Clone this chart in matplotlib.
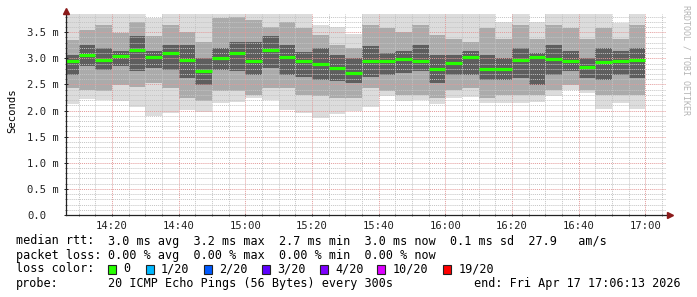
import matplotlib
matplotlib.use("Agg")
import matplotlib.pyplot as plt
from matplotlib.patches import Rectangle
from matplotlib.ticker import FixedLocator

plt.rcParams['font.family'] = ['DejaVu Sans Mono', 'DejaVu Sans']

# ---- data (ms) ----
window_start = "14:06:13"
window_end = "17:06:13"
bin_end = ["14:10", "14:15", "14:20", "14:25", "14:30", "14:35", "14:40",
           "14:45", "14:50", "14:55", "15:00", "15:05", "15:10", "15:15",
           "15:20", "15:25", "15:30", "15:35", "15:40", "15:45", "15:50",
           "15:55", "16:00", "16:05", "16:10", "16:15", "16:20", "16:25",
           "16:30", "16:35", "16:40", "16:45", "16:50", "16:55", "17:00"]

median = [2.95, 3.07, 2.96, 3.05, 3.17, 3.03, 3.11, 2.96, 2.75, 3.00,
          3.10, 2.95, 3.17, 3.03, 2.95, 2.90, 2.81, 2.72, 2.95, 2.95,
          2.98, 2.95, 2.80, 2.91, 3.02, 2.80, 2.79, 2.96, 3.02, 2.98,
          2.95, 2.84, 2.93, 2.95, 2.96]
smoke_max = [3.90, 3.90, 3.90, 3.90, 3.90, 3.77, 3.90, 3.90, 3.90, 3.90,
             3.90, 3.90, 3.90, 3.90, 3.90, 3.63, 3.60, 3.47, 3.90, 3.90,
             3.90, 3.90, 3.90, 3.90, 3.90, 3.90, 3.70, 3.90, 3.70, 3.90,
             3.90, 3.90, 3.90, 3.67, 3.90]
hi_mid = [3.35, 3.54, 3.64, 3.48, 3.70, 3.42, 3.64, 3.51, 3.32, 3.77,
          3.80, 3.74, 3.61, 3.70, 3.58, 3.45, 3.26, 3.19, 3.64, 3.58,
          3.51, 3.64, 3.45, 3.38, 3.32, 3.58, 3.38, 3.64, 3.38, 3.64,
          3.58, 3.38, 3.58, 3.38, 3.64]
hi_dark = [3.07, 3.25, 3.19, 3.14, 3.42, 3.14, 3.26, 3.26, 3.00, 3.19,
           3.32, 3.32, 3.42, 3.26, 3.13, 3.19, 3.07, 3.00, 3.23, 3.10,
           3.14, 3.26, 3.07, 3.07, 3.14, 3.07, 3.00, 3.19, 3.10, 3.26,
           3.14, 3.00, 3.19, 3.14, 3.19]
lo_dark = [2.68, 2.85, 2.78, 2.85, 2.75, 2.81, 2.78, 2.62, 2.49, 2.78,
           2.75, 2.68, 2.81, 2.68, 2.65, 2.59, 2.56, 2.52, 2.65, 2.68,
           2.72, 2.75, 2.52, 2.68, 2.68, 2.59, 2.59, 2.62, 2.49, 2.68,
           2.75, 2.62, 2.59, 2.68, 2.62]
lo_mid = [2.43, 2.40, 2.37, 2.49, 2.46, 2.52, 2.43, 2.24, 2.18, 2.37,
          2.37, 2.30, 2.43, 2.43, 2.30, 2.27, 2.24, 2.24, 2.43, 2.37,
          2.30, 2.30, 2.24, 2.40, 2.43, 2.24, 2.30, 2.30, 2.30, 2.40,
          2.49, 2.40, 2.30, 2.30, 2.30]
smoke_min = [2.12, 2.22, 2.20, 2.19, 2.07, 1.90, 1.96, 2.01, 1.98, 2.15,
             2.17, 2.24, 2.20, 2.01, 1.96, 1.86, 1.93, 1.99, 2.07, 2.28,
             2.19, 2.20, 2.12, 2.24, 2.26, 2.14, 2.15, 2.15, 2.17, 2.28,
             2.39, 2.33, 2.03, 2.15, 2.03]

x_major = ["14:20", "14:40", "15:00", "15:20", "15:40", "16:00", "16:20", "16:40", "17:00"]
y_ticks = [0.0, 0.5, 1.0, 1.5, 2.0, 2.5, 3.0, 3.5]
y_labels = ["0.0", "0.5 m", "1.0 m", "1.5 m", "2.0 m", "2.5 m", "3.0 m", "3.5 m"]

loss_labels = ["0", "1/20", "2/20", "3/20", "4/20", "10/20", "19/20"]
loss_colors = ["#26ff00", "#00b8ff", "#0059ff", "#5e00ff", "#7e00ff", "#dd00ff", "#ff0000"]


def minutes(t):
    # minutes after 14:00
    parts = [int(p) for p in t.split(":")]
    h, m = parts[0], parts[1]
    s = parts[2] if len(parts) > 2 else 0
    return (h - 14) * 60 + m + s / 60.0


W, H = 697, 297
fig = plt.figure(figsize=(W / 100, H / 100), dpi=100)
fig.patch.set_facecolor("white")
ax = fig.add_axes([66 / W, 82 / H, 600 / W, 201 / H])

x0 = minutes(window_start)
x1 = minutes(window_end)
rights = [minutes(t) for t in bin_end]
lefts = [x0] + rights[:-1]
widths = [r - l for l, r in zip(lefts, rights)]

# smoke
ax.bar(lefts, [a - b for a, b in zip(smoke_max, smoke_min)], width=widths,
       bottom=smoke_min, align="edge", color="#dcdcdc", linewidth=0, zorder=1)
ax.bar(lefts, [a - b for a, b in zip(hi_mid, lo_mid)], width=widths,
       bottom=lo_mid, align="edge", color="#ababab", linewidth=0, zorder=1.1)
ax.bar(lefts, [a - b for a, b in zip(hi_dark, lo_dark)], width=widths,
       bottom=lo_dark, align="edge", color="#5e5e5e", linewidth=0, zorder=1.2)

# median rtt
ax.hlines(median, lefts, rights, colors="#26ff00", linewidth=2.3, zorder=4,
          capstyle="butt")

ax.set_xlim(x0, x1)
ax.set_ylim(0, 3.85)

ax.xaxis.set_major_locator(FixedLocator([minutes(t) for t in x_major]))
ax.set_xticklabels(x_major)
ax.xaxis.set_minor_locator(FixedLocator([minutes(t) for t in bin_end] + [minutes("17:05")]))
ax.yaxis.set_major_locator(FixedLocator(y_ticks))
ax.set_yticklabels(y_labels)
ax.yaxis.set_minor_locator(FixedLocator([i / 10 for i in range(1, 39)]))

ax.set_axisbelow(False)
ax.grid(which="minor", color="#c4c4c4", linestyle=(0, (1, 1)), linewidth=0.7, zorder=2)
ax.grid(which="major", color="#e49a9a", linestyle=(0, (1, 1)), linewidth=0.7, zorder=2.1)

ax.tick_params(axis="x", which="major", length=2, width=0.7, direction="inout",
               labelsize=7.6, pad=3, colors="#222222")
ax.tick_params(axis="x", which="minor", length=2, width=0.6, direction="inout", colors="#555555")
ax.tick_params(axis="y", which="major", length=3, width=0.7, direction="inout",
               labelsize=7.6, pad=26.5, colors="#222222")
ax.tick_params(axis="y", which="minor", length=2, width=0.6, direction="inout", colors="#555555")
for lbl in ax.get_yticklabels():
    lbl.set_horizontalalignment("left")

for side in ["top", "right"]:
    ax.spines[side].set_visible(False)
for side in ["left", "bottom"]:
    ax.spines[side].set_color("#222222")
    ax.spines[side].set_linewidth(0.9)
    ax.spines[side].set_zorder(5)

# axis arrows
ax.plot([0], [1.015], marker="^", markersize=4.5, color="#8b1a1a",
        transform=ax.transAxes, clip_on=False, zorder=6)
ax.plot([1.007], [0], marker=">", markersize=4.5, color="#8b1a1a",
        transform=ax.transAxes, clip_on=False, zorder=6)

ax.set_ylabel("Seconds", fontsize=7.6)
ax.yaxis.set_label_coords(-49 / 600, 0.52)

fig.text(686 / W, 1 - 60 / H, "RRDTOOL / TOBI OETIKER", rotation=-90,
         fontsize=6, color="#b4b4b4", ha="center", va="center")


def ftext(x, y, s, **kw):
    fig.text(x / W, 1 - y / H, s, fontsize=8.5, va="center", ha="left", **kw)


ftext(16, 241, "median rtt:")
ftext(107.7, 241, "3.0 ms avg  3.2 ms max  2.7 ms min  3.0 ms now  0.1 ms sd  27.9   am/s")
ftext(16, 255, "packet loss:")
ftext(107.7, 255, "0.00 % avg  0.00 % max  0.00 % min  0.00 % now")
ftext(16, 269, "loss color:")

sq_x = [107.7, 145.5, 203.8, 261.7, 319.5, 377.4, 442.8]
for xs, c, lab in zip(sq_x, loss_colors, loss_labels):
    fig.patches.append(Rectangle((xs / W, 1 - 273.5 / H), 8 / W, 9 / H,
                                 transform=fig.transFigure, facecolor=c,
                                 edgecolor="#222222", linewidth=0.8))
    ftext(xs + 15.5, 269, lab)

ftext(16, 283, "probe:")
ftext(107.7, 283, "20 ICMP Echo Pings (56 Bytes) every 300s")
fig.text(681 / W, 1 - 283 / H, "end: Fri Apr 17 17:06:13 2026", fontsize=8.5,
         va="center", ha="right")

fig.savefig("out.png", dpi=100, facecolor="white")
